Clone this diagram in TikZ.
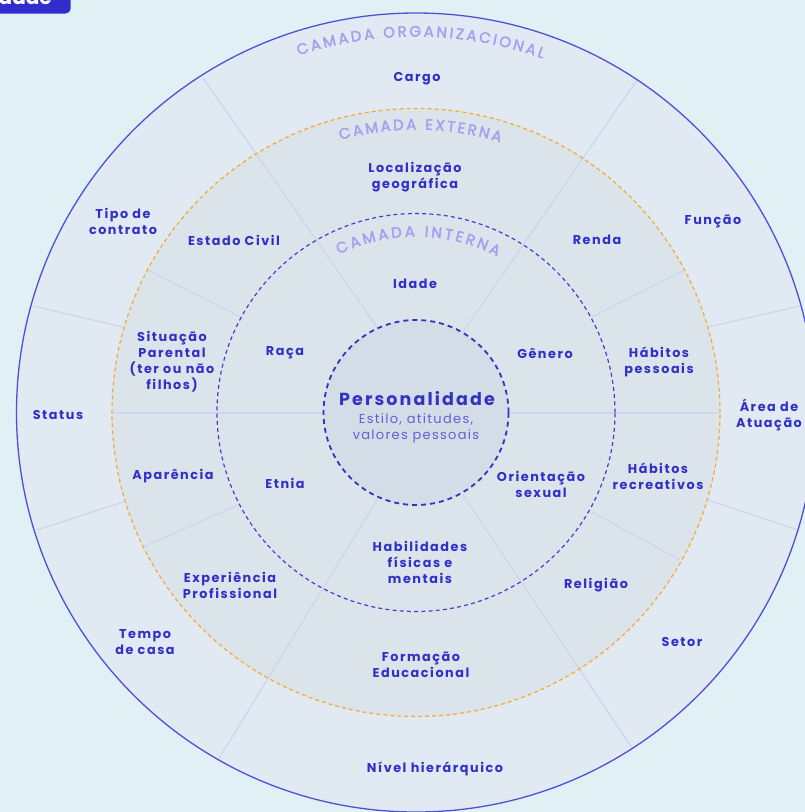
\documentclass[tikz,border=0pt]{standalone}
\usepackage{fontspec}
\usetikzlibrary{decorations.text,calc}
\newfontfamily\labfont{Poppins}[LetterSpace=12]
\newfontfamily\ttlfont{Poppins}[FakeBold=2.6]
\newfontfamily\badgefont{Poppins}
\newfontfamily\subfont{Poppins}[LetterSpace=10]
\definecolor{bg}{RGB}{224,240,244}
\definecolor{outerfill}{RGB}{225,234,243}
\definecolor{extfill}{RGB}{220,228,235}
\definecolor{intfill}{RGB}{220,228,235}
\definecolor{ctrfill}{RGB}{211,221,231}
\definecolor{outerline}{RGB}{80,80,215}
\definecolor{orangec}{RGB}{245,170,45}
\definecolor{bluedash}{RGB}{65,65,205}
\definecolor{ctrdash}{RGB}{50,50,195}
\definecolor{labc}{RGB}{48,48,200}
\definecolor{subc}{RGB}{95,95,215}
\definecolor{ttlc}{RGB}{170,158,240}
\definecolor{sepc}{RGB}{208,213,238}
\definecolor{badge}{RGB}{48,44,205}
\begin{document}
\begin{tikzpicture}[x=1pt,y=1pt,
  lab/.style={font=\labfont\fontsize{12.8}{16}\selectfont\bfseries, text=labc, align=center, inner sep=0pt},
  seg/.style={draw=sepc, line width=1.4pt},
  ttl/.style={decorate, decoration={text along path, text align={fit to path},
     text={|\ttlfont\fontsize{15}{15}\selectfont\color{ttlc}|#1}}}]
\useasboundingbox (0,0) rectangle (805,-812);
\fill[bg] (0,0) rectangle (805,-812);
% badge
\fill[badge, rounded corners=5pt] (-20,20) rectangle (70.7,-13.5);
\node[anchor=base east, inner sep=0pt, text=white, font=\badgefont\bfseries\fontsize{20}{20}\selectfont] (badgetxt) at (52,-4) {idade};
\coordinate (C) at (416,-412.5);
% fills
\fill[outerfill] (C) circle (399.5);
\fill[extfill] (C) circle (304);
\fill[intfill] (C) circle (199);
\fill[ctrfill] (C) circle (92.5);
% separators
\draw[seg] (203,-78) -- (377,-327);
\draw[seg] (637,-80) -- (463,-332);
\draw[seg] (218,-760) -- (377,-500);
\draw[seg] (632,-748) -- (463,-495);
\draw[seg] (113,-413) -- (323.5,-413);
\draw[seg] (508.5,-413) -- (719,-413);
\draw[seg] (683,-271) -- (592,-317);
\draw[seg] (800,-306) -- (708,-327);
\draw[seg] (148,-270) -- (242,-318);
\draw[seg] (33,-306) -- (123,-327);
\draw[seg] (37,-530) -- (123,-502);
\draw[seg] (143,-547) -- (238,-505);
\draw[seg] (708,-500) -- (798,-530);
\draw[seg] (592,-512) -- (680,-560);
% circles
\draw[orangec, line width=1.2pt, dash pattern=on 4pt off 3pt] (C) circle (304);
\draw[bluedash, line width=1.2pt, dash pattern=on 4pt off 3.2pt] (C) circle (199);
\draw[ctrdash, line width=1.8pt, dash pattern=on 5pt off 4pt] (C) circle (92.5);
\draw[outerline, line width=1.3pt] (C) circle (399.5);
% layer titles
\path[ttl={CAMADA ORGANIZACIONAL}] ($(C)+(108.2:376)$) arc[start angle=108.2, end angle=70.3, radius=376];
\path[ttl={CAMADA EXTERNA}] ($(C)+(105.5:283)$) arc[start angle=105.5, end angle=72.7, radius=283];
\path[ttl={CAMADA INTERNA}] ($(C)+(116:176)$) arc[start angle=116, end angle=62.5, radius=176];
% outer ring labels
\node[lab] (cargo) at (417,-79) {Cargo};
\node[lab] (funcao) at (713,-221) {Função};
\node[lab] (area) at (769,-415) {Área de\\Atuação};
\node[lab] (setor) at (682,-642) {Setor};
\node[lab] (nivel) at (435,-769) {Nível hierárquico};
\node[lab] (tempo) at (145,-642) {Tempo\\de casa};
\node[lab] (status) at (58,-415) {Status};
\node[lab] (tipo) at (123,-221) {Tipo de\\contrato};
% external ring labels
\node[lab] (local) at (415,-177) {Localização\\geográfica};
\node[lab] (renda) at (597,-240) {Renda};
\node[lab] (habp) at (659,-362) {Hábitos\\pessoais};
\node[lab] (habr) at (658,-476) {Hábitos\\recreativos};
\node[lab] (relig) at (596,-585) {Religião};
\node[lab] (form) at (421,-665) {Formação\\Educacional};
\node[lab] (exper) at (230,-585) {Experiência\\Profissional};
\node[lab] (apar) at (173,-476) {Aparência};
\node[lab] (situ) at (172,-362) {Situação\\Parental\\(ter ou não\\filhos)};
\node[lab] (estado) at (234,-240) {Estado Civil};
% inner ring labels
\node[lab] (idade) at (415,-284) {Idade};
\node[lab] (genero) at (545,-353) {Gênero};
\node[lab] (orient) at (541,-484) {Orientação\\sexual};
\node[lab] (habil) at (420,-562) {Habilidades\\físicas e\\mentais};
\node[lab] (etnia) at (285,-483) {Etnia};
\node[lab] (raca) at (285,-353) {Raça};
% center
\node[lab, font=\labfont\fontsize{17.5}{20}\selectfont\bfseries, text=ctrdash] (pers) at (417,-399) {Personalidade};
\node[align=center, inner sep=0pt, text=subc, font=\subfont\fontsize{13}{16.5}\selectfont] (estilo) at (416,-428) {Estilo, atitudes,\\valores pessoais};
\end{tikzpicture}
\end{document}
